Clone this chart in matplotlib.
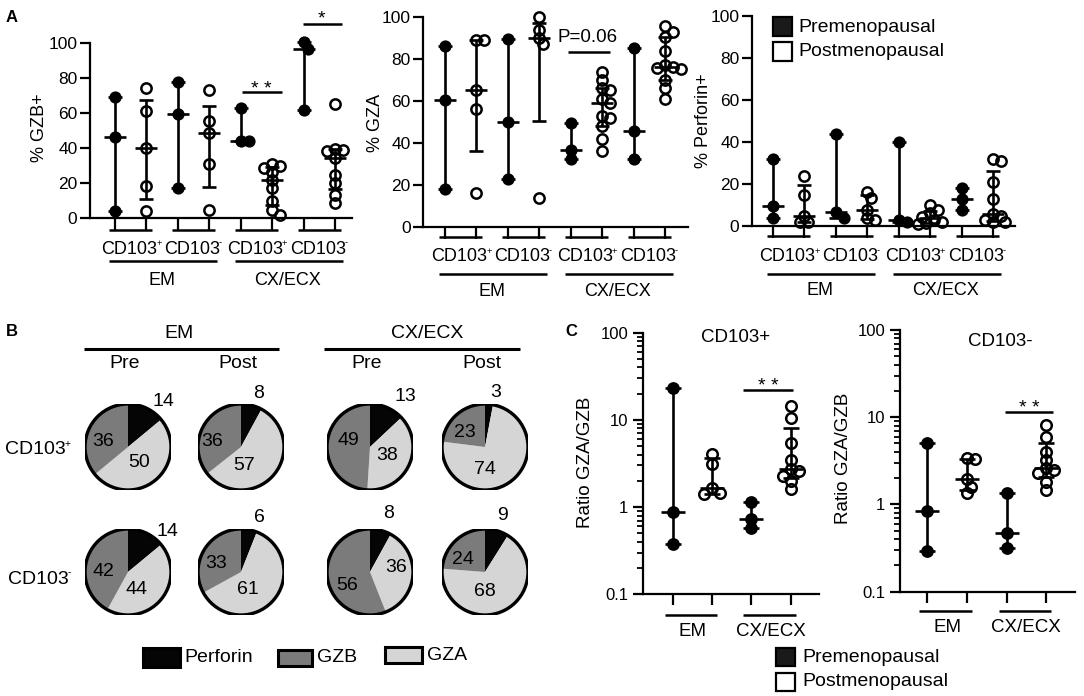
import numpy as np
import matplotlib
matplotlib.use("Agg")
import matplotlib.pyplot as plt
from matplotlib.lines import Line2D
from matplotlib.patches import Rectangle, Circle
from matplotlib.ticker import FixedLocator, NullFormatter

plt.rcParams['font.family'] = ['Liberation Sans', 'DejaVu Sans']

# ---------------- DATA ----------------
sites = ["EM", "CX/ECX"]
subset_base = "CD103"
subset_signs = ["+", "-"]
menopause = ["Premenopausal", "Postmenopausal"]
# panel A categories: (EM,CD103+,Pre),(EM,CD103+,Post),(EM,CD103-,Pre),(EM,CD103-,Post), same for CX/ECX
cat_post = [0, 1, 0, 1, 0, 1, 0, 1]

gzb_pct = [
    [69, 46, 4],
    [74, 61, 40, 18, 4],
    [77.5, 59.5, 17],
    [73, 55.5, 48.5, 31, 4.5],
    [63, 44, 44],
    [31, 29.5, 28.5, 26.5, 21.5, 17, 10, 4.5, 1.5],
    [100.5, 96.5, 61.5],
    [65, 39.5, 39, 38, 34, 24.5, 20, 13, 8.5],
]
gza_pct = [
    [86, 60.5, 18],
    [89, 89, 65, 56, 16],
    [89.5, 50, 23],
    [100, 94, 90, 87, 14],
    [49.5, 36.5, 32.5],
    [74, 70, 66, 65, 61, 59, 53, 52, 48, 42, 36],
    [85, 45.5, 32.5],
    [95.5, 93, 90.5, 84, 77, 76, 75.5, 75, 70, 66, 61],
]
perforin_pct = [
    [32, 9.5, 3.7],
    [24, 15, 5, 2, 2],
    [44, 6.5, 4],
    [16.3, 13.2, 7.6, 3.7, 2.9],
    [40, 2.9, 2.1],
    [10, 7.5, 6, 4.5, 3, 2, 1.5, 1],
    [18, 12.7, 7.6],
    [32, 31, 21, 13, 5.5, 5, 3, 2, 2],
]

# panel B pies: rows CD103+, CD103-; columns EM Pre, EM Post, CX/ECX Pre, CX/ECX Post
pie_cols = ["Pre", "Post", "Pre", "Post"]
pie_names = ["Perforin", "GZB", "GZA"]
pie_perforin = [[14, 8, 13, 3], [14, 6, 8, 9]]
pie_gzb = [[36, 36, 49, 23], [42, 33, 56, 24]]
pie_gza = [[50, 57, 38, 74], [44, 61, 36, 68]]

# panel C ratios GZA/GZB: categories EM Pre, EM Post, CX/ECX Pre, CX/ECX Post
ratio_post = [0, 1, 0, 1]
ratio_cd103pos = [[23, 0.88, 0.38], [4.1, 3.15, 1.65, 1.45, 1.4], [1.13, 0.74, 0.57],
                  [14.5, 10.5, 5.5, 3.5, 2.7, 2.6, 2.3, 2.0, 1.6]]
ratio_cd103neg = [[5.1, 0.84, 0.29], [3.4, 3.3, 1.95, 1.6, 1.35], [1.37, 0.47, 0.32],
                  [8.2, 6.0, 4.0, 3.2, 2.6, 2.5, 2.3, 1.8, 1.45]]

# ---------------- FIGURE / HELPERS ----------------
W, H = 1084, 696
fig = plt.figure(figsize=(W / 100, H / 100), dpi=100)
fig.patch.set_facecolor('white')
PX_PER_PT = 100 / 72


def fx(px):
    return px / W


def fy(py):
    return 1 - py / H


def px_rect(left, top, right, bottom):
    return [left / W, 1 - bottom / H, (right - left) / W, (bottom - top) / H]


def hline(x1, x2, y, lw=1.8):
    fig.add_artist(Line2D([fx(x1), fx(x2)], [fy(y), fy(y)], transform=fig.transFigure,
                          color='black', lw=lw, solid_capstyle='butt'))


def ftext(x, y, s, size, ha='center', va='center', **kw):
    return fig.text(fx(x), fy(y), s, fontsize=size, ha=ha, va=va, **kw)


def stars(xc, ycenter, s, size):
    em = size * PX_PER_PT
    fig.text(fx(xc), fy(ycenter + 0.57 * em), s, fontsize=size, ha='center', va='baseline')


def subset_label(xc, y, k, size):
    # "CD103" followed by a small raised +/- sign, centred on xc
    em = size * PX_PER_PT
    w_base = 3.05 * em          # Arial-metric width of "CD103" (minus trailing bearing)
    sup = size * 0.52
    w_sup = 0.45 * sup * PX_PER_PT
    x0 = xc - (w_base + w_sup) / 2
    ftext(x0, y, subset_base, size, ha='left')
    ftext(x0 + w_base, y - 0.33 * em, subset_signs[k], sup, ha='left')


def swarm_offsets(ypix, d):
    ypix = np.asarray(ypix, float)
    order = np.argsort(-ypix)
    cands = [0.0]
    for k in range(1, 14):
        cands += [k * 0.33 * d, -k * 0.33 * d]
    placed = []
    offs = np.zeros(len(ypix))
    for i in order:
        for c in cands:
            if all(np.hypot(c - ox, ypix[i] - oy) >= 0.6 * d for ox, oy in placed):
                offs[i] = c
                placed.append((c, ypix[i]))
                break
    return offs


def scatter_panel(data, post_flags, L, log=False):
    ax = fig.add_axes(px_rect(L['left'], L['top'], L['right'], L['bottom']))
    step = L['step']
    ax.set_xlim((L['left'] - L['cat0']) / step, (L['right'] - L['cat0']) / step)
    if log:
        ax.set_yscale('log')
        ax.set_ylim(0.1, 100)
        ax.yaxis.set_major_locator(FixedLocator([0.1, 1, 10, 100]))
        ax.set_yticklabels(["0.1", "1", "10", "100"])
        minors = [m * 10.0 ** e for e in (-1, 0, 1) for m in range(2, 10)]
        ax.yaxis.set_minor_locator(FixedLocator(minors))
        ax.yaxis.set_minor_formatter(NullFormatter())
        ax.tick_params(axis='y', which='minor', length=4.5, width=1.3, direction='out')
    else:
        ax.set_ylim(0, 100)
        ax.set_yticks([0, 20, 40, 60, 80, 100])
    ax.set_xticks(range(len(data)))
    ax.set_xticklabels([])
    ax.tick_params(axis='x', which='minor', length=0)
    for s in ['top', 'right']:
        ax.spines[s].set_visible(False)
    for s in ['left', 'bottom']:
        ax.spines[s].set_linewidth(1.6)
    ax.tick_params(axis='x', which='major', length=L['xtick'], width=1.6, direction='out')
    ax.tick_params(axis='y', which='major', length=7, width=1.6, labelsize=L['fs_tick'], pad=L['pad'])
    ax.patch.set_alpha(0)
    d = L['d']
    for i, vals in enumerate(data):
        vals = np.asarray(vals, float)
        q1, med, q3 = np.percentile(vals, [25, 50, 75], method='weibull')
        kw = dict(color='black', lw=1.9, solid_capstyle='butt', clip_on=False, zorder=2)
        ax.plot([i, i], [q1, q3], **kw)
        hm, hc = L['hw_med'] / step, L['hw_cap'] / step
        ax.plot([i - hm, i + hm], [med, med], **kw)
        ax.plot([i - hc, i + hc], [q1, q1], **kw)
        ax.plot([i - hc, i + hc], [q3, q3], **kw)
        ypix = [ax.transData.transform((0, v))[1] for v in vals]
        offs = swarm_offsets(ypix, d) / step
        if post_flags[i]:
            ax.plot(i + offs, vals, 'o', ms=L['ms_open'], mfc='none', mec='black', mew=1.8,
                    clip_on=False, zorder=3, ls='none')
        else:
            ax.plot(i + offs, vals, 'o', ms=L['ms_fill'], mfc='black', mec='black', mew=0,
                    clip_on=False, zorder=3, ls='none')
    return ax


def cx(L, i):
    return L['cat0'] + i * L['step']


# ---------------- PANEL A ----------------
A_common = dict(step=31.43, xtick=8.6, fs_tick=12.5, pad=2, d=12, hw_med=11, hw_cap=7,
                ms_fill=8.8, ms_open=7.4)
A_layouts = [
    dict(A_common, left=90, right=352, top=43, bottom=218, cat0=115,
         pair_y=230, lab_y=249, grp_y=261, glab_y=280, ylab=(40, 128), ylabel="% GZB+"),
    dict(A_common, left=423, right=688, top=17, bottom=227, cat0=445,
         pair_y=237, lab_y=257, grp_y=274, glab_y=291, ylab=(375, 123), ylabel="% GZA"),
    dict(A_common, left=752, right=1015, top=16, bottom=226, cat0=773,
         pair_y=236, lab_y=257, grp_y=274, glab_y=290, ylab=(703, 121), ylabel="% Perforin+"),
]
A_data = [gzb_pct, gza_pct, perforin_pct]

for L, data in zip(A_layouts, A_data):
    scatter_panel(data, cat_post, L)
    ftext(L['ylab'][0], L['ylab'][1], L['ylabel'], 13, rotation=90)
    for p in range(4):
        a, b = cx(L, 2 * p), cx(L, 2 * p + 1)
        hline(a - 6, b + 6, L['pair_y'])
        subset_label((a + b) / 2, L['lab_y'], p % 2, 13)
    for g in range(2):
        a, b = cx(L, 4 * g), cx(L, 4 * g + 3)
        hline(a - 6, b + 8, L['grp_y'])
        ftext((a + b) / 2, L['glab_y'], sites[g], 13)

ftext(12, 18, "A", 12, weight='bold')

# significance marks panel A
LA1 = A_layouts[0]
hline(cx(LA1, 4) + 1, cx(LA1, 5) + 10, 92)
stars((cx(LA1, 4) + cx(LA1, 5)) / 2 + 5, 83, "* *", 14)
hline(cx(LA1, 6) - 1, cx(LA1, 7) + 7, 24)
stars((cx(LA1, 6) + cx(LA1, 7)) / 2 + 2, 12.5, "*", 14)
LA2 = A_layouts[1]
hline(cx(LA2, 4) - 3, cx(LA2, 5) + 8, 52)
ftext(588, 37, "P=0.06", 13.5)

# legend panel A3
for k, fc in enumerate(['#1a1a1a', 'white']):
    fig.add_artist(Rectangle((fx(773), fy(36 + 25 * k)), 19 / W, 19 / H, transform=fig.transFigure,
                             facecolor=fc, edgecolor='black', lw=1.6))
    ftext(798, 27 + 25 * k, menopause[k], 14, ha='left')

# ---------------- PANEL B ----------------
ftext(12, 332, "B", 12, weight='bold')
ftext(179, 333, sites[0], 14)
hline(84, 279, 349, lw=2.2)
ftext(427, 333, sites[1], 14)
hline(324, 520, 349, lw=2.2)
pie_x = [128, 241, 370, 485]
pie_y = [447, 572]
for c, xx in enumerate(pie_x):
    ftext(xx - 3, 364, pie_cols[c], 14)
subset_label(37, 450, 0, 14)
subset_label(40, 579, 1, 14)

pie_colors = ['#050505', '#d5d5d5', '#7b7b7b']   # perforin, GZA, GZB (clockwise order)
r_pie = 43
# label offsets (pixels from pie centre) for perforin, GZB, GZA numbers
lab_off = [
    [[(35, -45), (-25, -5), (11, 16)], [(18, -53), (-29, -5), (3, 19)],
     [(35, -50), (-22, -6), (17, 9)], [(11, -54), (-20, -14), (0, 23)]],
    [[(39, -41), (-25, 0), (8, 18)], [(18, -54), (-25, -8), (7, 17)],
     [(19, -58), (-23, 13), (26, -5)], [(17, -56), (-22, -13), (0, 20)]],
]
for r, yy in enumerate(pie_y):
    for c, xx in enumerate(pie_x):
        pax = fig.add_axes(px_rect(xx - r_pie, yy - r_pie, xx + r_pie, yy + r_pie))
        vals = [pie_perforin[r][c], pie_gza[r][c], pie_gzb[r][c]]
        pax.pie(vals, colors=pie_colors, startangle=90, counterclock=False,
                wedgeprops=dict(linewidth=0))
        pax.add_patch(Circle((0, 0), 1, facecolor='none', edgecolor='black', lw=2.4))
        pax.set_xlim(-1, 1)
        pax.set_ylim(-1, 1)
        pax.set_aspect('equal')
        pax.axis('off')
        nums = [pie_perforin[r][c], pie_gzb[r][c], pie_gza[r][c]]
        for k, n in enumerate(nums):
            ox, oy = lab_off[r][c][k]
            pax.text(ox / r_pie, -oy / r_pie, str(n), fontsize=14, ha='center', va='center',
                     clip_on=False)

# legend panel B
leg_b = [(143, 180, 648, 667, pie_colors[0]), (278, 312, 650, 666, pie_colors[2]),
         (385, 422, 647, 663, pie_colors[1])]
leg_b_text = [(184, 658), (317, 658), (427, 655)]
for (x1, x2, y1, y2, col), (tx, ty), name in zip(leg_b, leg_b_text, pie_names):
    fig.add_artist(Rectangle((fx(x1), fy(y2)), (x2 - x1) / W, (y2 - y1) / H, transform=fig.transFigure,
                             facecolor=col, edgecolor='black', lw=2.2))
    ftext(tx, ty, name, 14, ha='left')

# ---------------- PANEL C ----------------
C_common = dict(xtick=8, fs_tick=12, pad=3.5, d=12.5, hw_med=12, hw_cap=8,
                ms_fill=9.2, ms_open=7.6)
C_layouts = [
    dict(C_common, left=643, right=819, top=332.7, bottom=594.3, cat0=672.6, step=39.4,
         grp_y=615, glab_y=632, ylab=(585, 462), title=(736, 338, "CD103+"),
         sig=(743, 793, 390, 380)),
    dict(C_common, left=900, right=1075, top=330, bottom=591.7, cat0=927.3, step=39.6,
         grp_y=611, glab_y=628, ylab=(843, 458), title=(1000, 342, "CD103-"),
         sig=(1005, 1053, 412, 402)),
]
C_data = [ratio_cd103pos, ratio_cd103neg]
for L, data in zip(C_layouts, C_data):
    scatter_panel(data, ratio_post, L, log=True)
    ftext(L['ylab'][0], L['ylab'][1], "Ratio GZA/GZB", 13.5, rotation=90)
    ftext(L['title'][0], L['title'][1], L['title'][2], 13.5)
    for g in range(2):
        a, b = cx(L, 2 * g), cx(L, 2 * g + 1)
        hline(a - 8, b + 5, L['grp_y'])
        ftext((a + b) / 2, L['glab_y'], sites[g], 13.5)
    x1, x2, ly, sy = L['sig']
    hline(x1, x2, ly)
    stars((x1 + x2) / 2, sy, "* *", 14)

ftext(571, 332, "C", 12, weight='bold')
for k, fc in enumerate(['#1a1a1a', 'white']):
    fig.add_artist(Rectangle((fx(776), fy(666 + 25 * k)), 19 / W, 18 / H, transform=fig.transFigure,
                             facecolor=fc, edgecolor='black', lw=1.6))
    ftext(802, 657 + 24.5 * k, menopause[k], 14, ha='left')

fig.savefig("out.png", dpi=100, facecolor='white')
